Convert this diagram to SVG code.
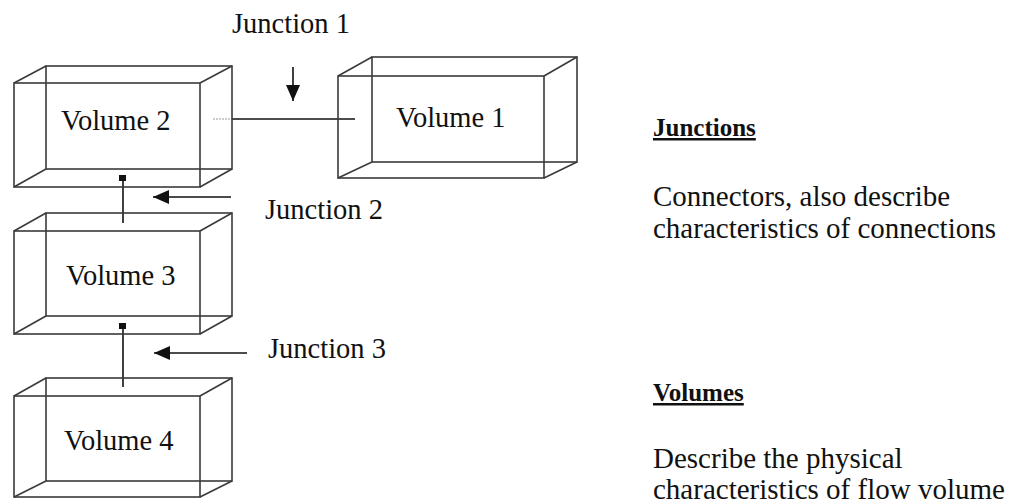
<svg xmlns="http://www.w3.org/2000/svg" width="1009" height="504" viewBox="0 0 1009 504">
  <style>
    .box { fill: none; stroke: #3a3a3a; stroke-width: 1.6; stroke-linejoin: miter; }
    .wire { stroke: #111; stroke-width: 1.6; fill: none; }
    .lbl { font-family: "Liberation Serif", "Times New Roman", serif; font-size: 28.5px; fill: #111; }
    .head { font-family: "Liberation Serif", "Times New Roman", serif; font-size: 25px; font-weight: bold; fill: #111; text-decoration: underline; }
    .body { font-family: "Liberation Serif", "Times New Roman", serif; font-size: 29px; fill: #111; }
  </style>
  <defs>
    <marker id="arrowWide" viewBox="0 0 16 14" refX="16" refY="7" markerWidth="16" markerHeight="14" markerUnits="userSpaceOnUse" orient="auto">
      <path d="M0,0 L16,7 L0,14 z" fill="#111"/>
    </marker>
  </defs>
  <rect width="1009" height="504" fill="#fff"/>

  <!-- connectors -->
  <g id="connectors">
    <!-- Volume 2 to Volume 1 -->
    <line x1="213" y1="119" x2="232" y2="119" stroke="#999" stroke-width="1.2" stroke-dasharray="2 1"/>
    <line class="wire" x1="232" y1="119" x2="355" y2="119"/>
    <!-- Volume 2 to Volume 3 -->
    <rect x="119" y="175" width="7" height="6" fill="#111"/>
    <line class="wire" x1="123" y1="181" x2="123" y2="223"/>
    <!-- Volume 3 to Volume 4 -->
    <rect x="119" y="323" width="7" height="6" fill="#111"/>
    <line class="wire" x1="123" y1="329" x2="123" y2="387"/>
    <!-- junction pointers -->
    <line class="wire" x1="293" y1="67" x2="293" y2="101" marker-end="url(#arrowWide)"/>
    <line class="wire" x1="231" y1="197" x2="153" y2="197" marker-end="url(#arrowWide)"/>
    <line class="wire" x1="247" y1="353" x2="154" y2="353" marker-end="url(#arrowWide)"/>
  </g>

  <g id="volume1">
    <rect class="box" x="338" y="76" width="206" height="102"/>
    <rect class="box" x="372" y="57" width="205" height="105"/>
    <path class="box" d="M338,76 L372,57 M544,76 L577,57 M338,178 L372,162 M544,178 L577,162"/>
    <text class="lbl" x="396" y="127">Volume 1</text>
  </g>

  <g id="volume2">
    <rect class="box" x="14" y="83" width="186" height="104"/>
    <rect class="box" x="46" y="66" width="186" height="103"/>
    <path class="box" d="M14,83 L46,66 M200,83 L232,66 M14,187 L46,169 M200,187 L232,169"/>
    <text class="lbl" x="61" y="130">Volume 2</text>
  </g>

  <g id="volume3">
    <rect class="box" x="14" y="231" width="186" height="103"/>
    <rect class="box" x="46" y="213" width="186" height="103"/>
    <path class="box" d="M14,231 L46,213 M200,231 L232,213 M14,334 L46,316 M200,334 L232,316"/>
    <text class="lbl" x="66" y="285">Volume 3</text>
  </g>

  <g id="volume4">
    <rect class="box" x="14" y="396" width="186" height="101"/>
    <rect class="box" x="46" y="378" width="186" height="103"/>
    <path class="box" d="M14,396 L46,378 M200,396 L232,378 M14,497 L46,481 M200,497 L232,481"/>
    <text class="lbl" x="64" y="450">Volume 4</text>
  </g>

  <g id="junction-labels">
    <text class="lbl" x="232" y="33">Junction 1</text>
    <text class="lbl" x="265" y="219">Junction 2</text>
    <text class="lbl" x="268" y="358">Junction 3</text>
  </g>

  <g id="legend">
    <text class="head" x="653" y="136">Junctions</text>
    <text class="body" x="653" y="206">Connectors, also describe</text>
    <text class="body" x="653" y="238">characteristics of connections</text>
    <text class="head" x="653" y="401">Volumes</text>
    <text class="body" x="653" y="468">Describe the physical</text>
    <text class="body" x="653" y="499">characteristics of flow volume</text>
  </g>
</svg>
